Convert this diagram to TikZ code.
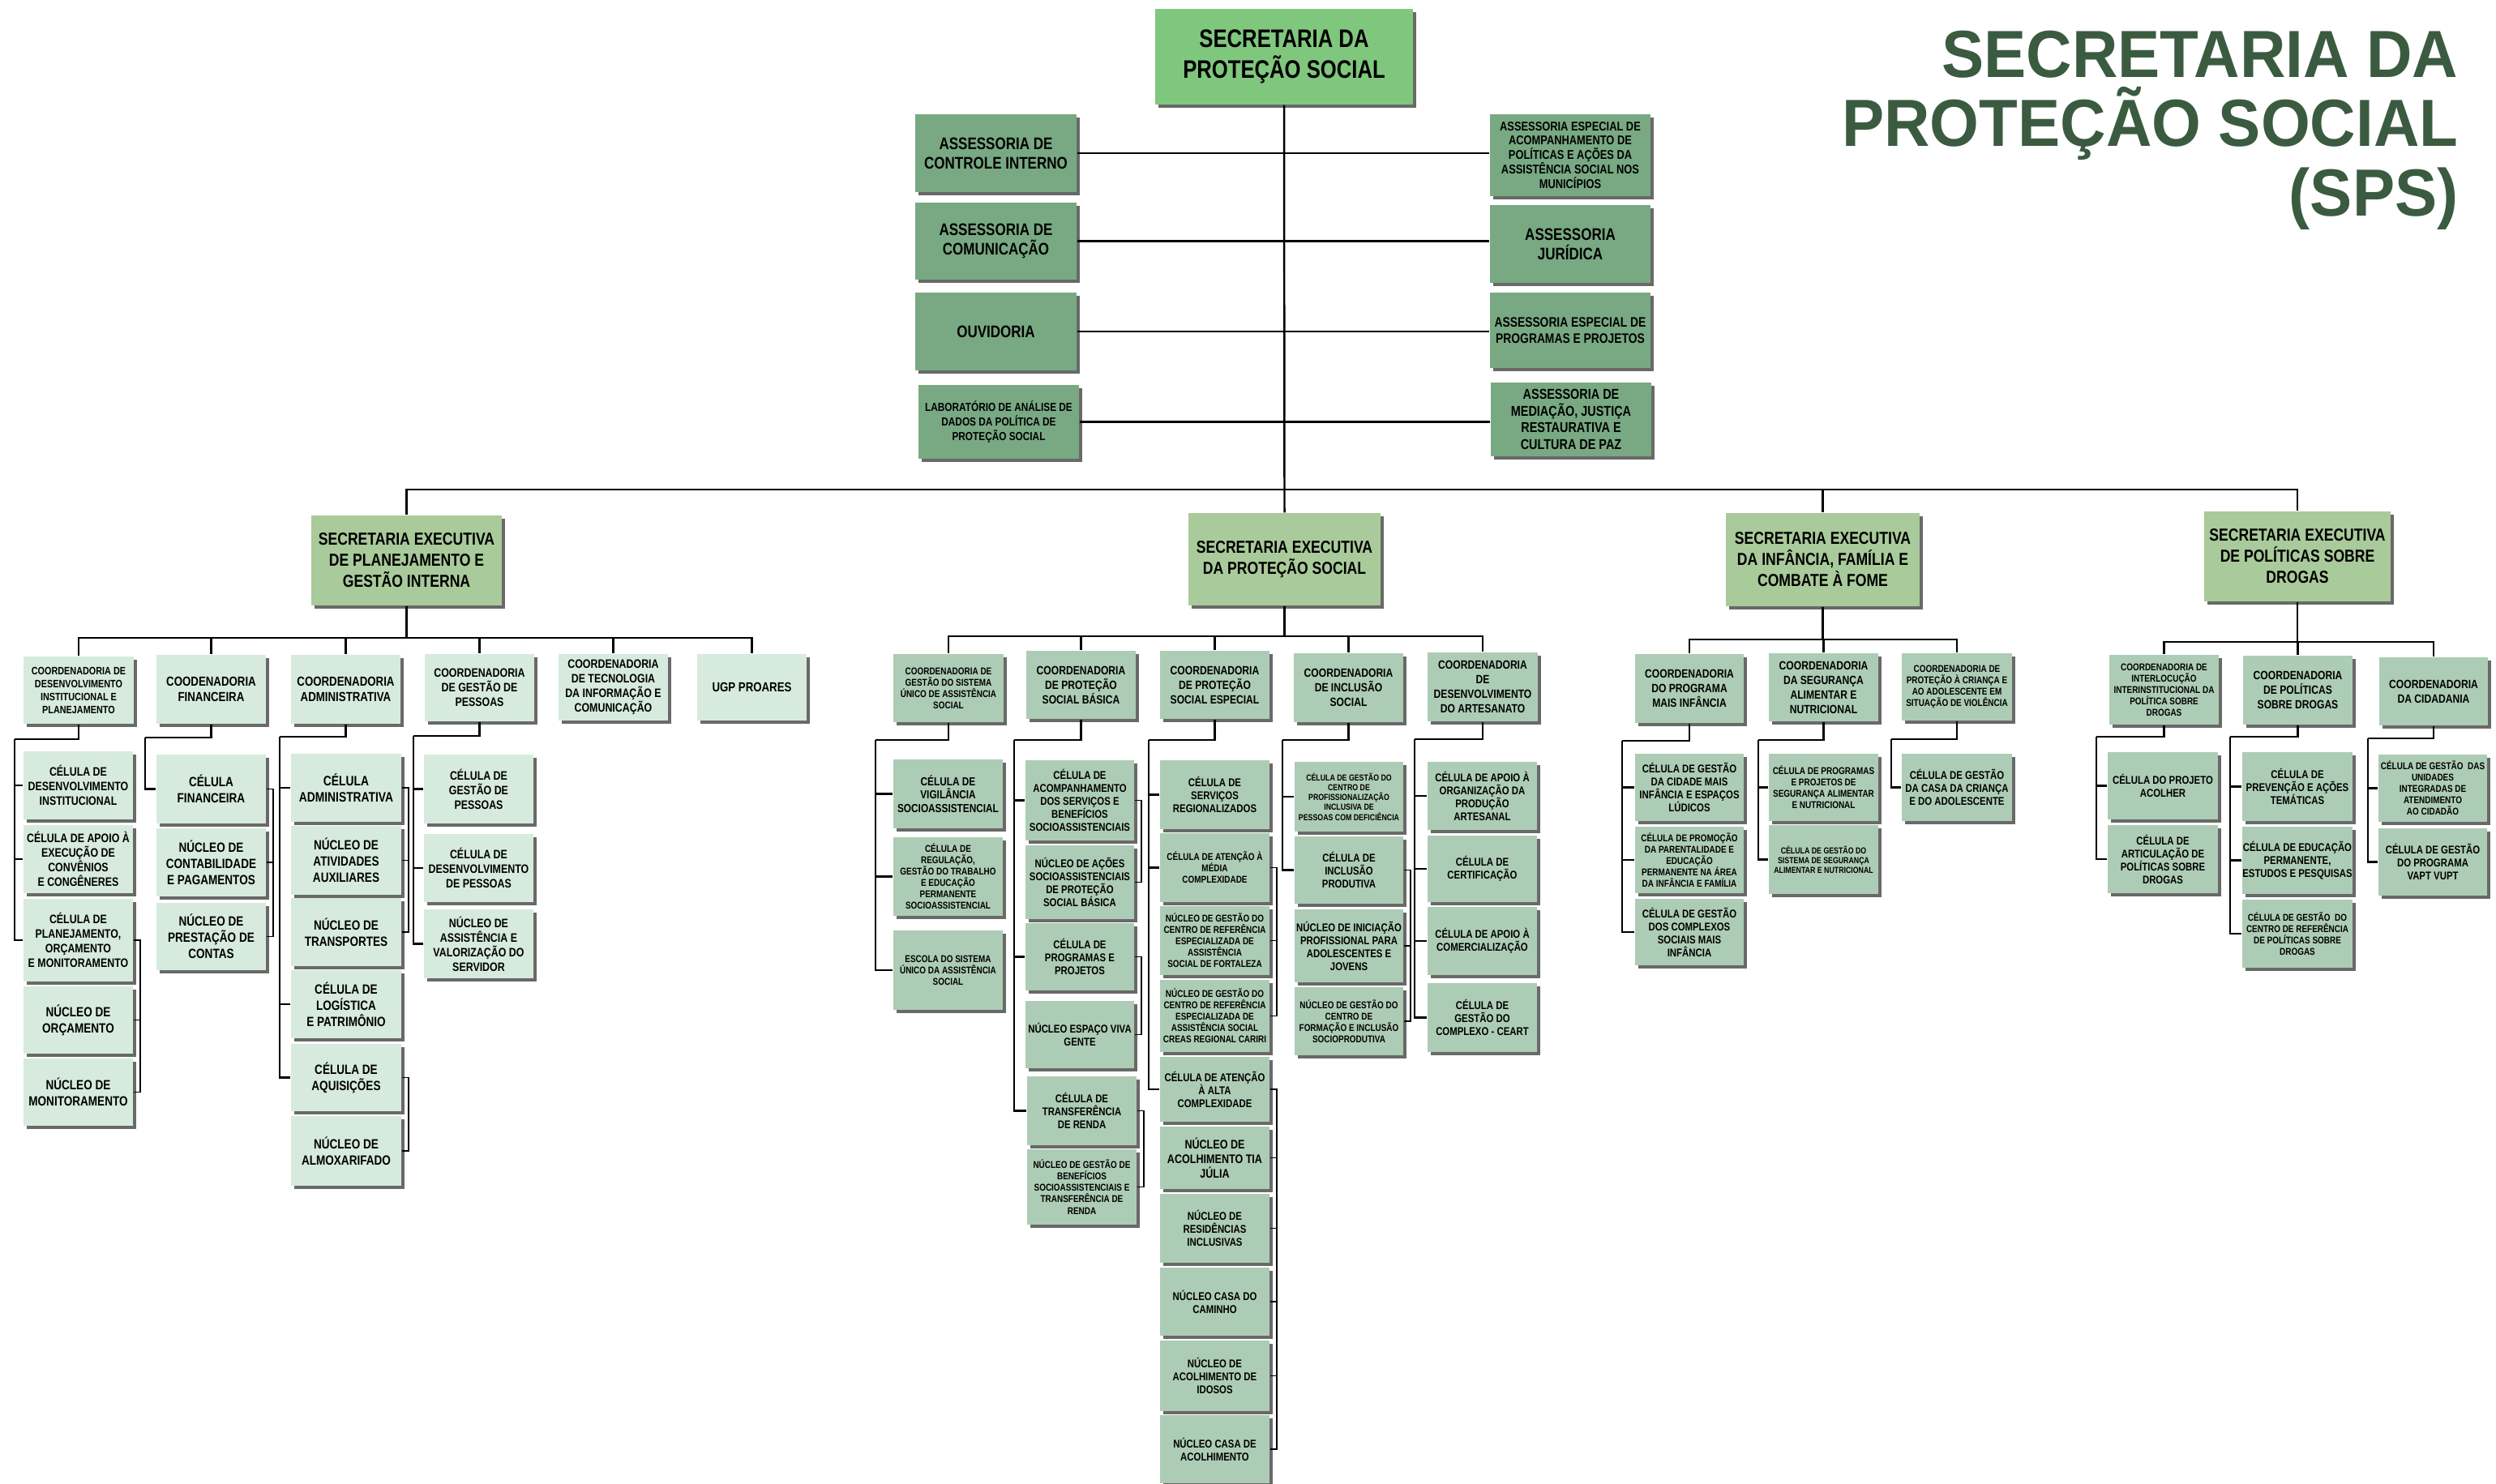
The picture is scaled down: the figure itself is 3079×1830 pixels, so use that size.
\documentclass[tikz,border=0pt]{standalone}
\usepackage{fontspec}
\usepackage{tikz}
\usetikzlibrary{shadows}
\newfontfamily\orgfont{Liberation Sans}[FakeStretch=0.82]
\newfontfamily\ttlfont{Liberation Sans}[FakeStretch=0.95]
\definecolor{topgreen}{RGB}{128,199,126}
\definecolor{asgreen}{RGB}{120,169,130}
\definecolor{segreen}{RGB}{169,202,154}
\definecolor{mint}{RGB}{214,235,221}
\definecolor{sage}{RGB}{173,204,181}
\definecolor{shade}{RGB}{105,105,105}
\definecolor{titlegreen}{RGB}{59,91,65}
% one box: style, name, x1, y1, x2, y2, text (pixel units)
\newcommand{\orgbox}[7]{\node[#1, minimum width={(#5-#3)*0.28453pt}, minimum height={(#6-#4)*0.28453pt}] (#2) at ({(#3+#5)/2},{(#4+#6)/2}) {#7};}
\tikzset{x=0.01cm, y=-0.01cm,
every org/.style={ % common look of the boxes
inner sep=0pt, align=center, text=black,
drop shadow={shadow xshift=1.1pt, shadow yshift=-1.1pt, fill=shade, opacity=1}},
topbox/.style={every org, fill=topgreen},
asbox/.style={every org, fill=asgreen},
sebox/.style={every org, fill=segreen},
ltbox/.style={every org, fill=mint},
mdbox/.style={every org, fill=sage},
t30/.style={font=\orgfont\bfseries\fontsize{3.05}{3.45}\selectfont},
t35/.style={font=\orgfont\bfseries\fontsize{3.45}{4.0}\selectfont},
t38/.style={font=\orgfont\bfseries\fontsize{3.76}{4.55}\selectfont},
t39/.style={font=\orgfont\bfseries\fontsize{3.95}{4.55}\selectfont},
t40/.style={font=\orgfont\bfseries\fontsize{4.1}{4.6}\selectfont},
t41/.style={font=\orgfont\bfseries\fontsize{4.1}{5.2}\selectfont},
t42/.style={font=\orgfont\bfseries\fontsize{4.2}{5.1}\selectfont},
t43/.style={font=\orgfont\bfseries\fontsize{4.3}{5.1}\selectfont},
t44/.style={font=\orgfont\bfseries\fontsize{4.36}{5.1}\selectfont},
t45/.style={font=\orgfont\bfseries\fontsize{4.46}{5.1}\selectfont},
t46/.style={font=\orgfont\bfseries\fontsize{4.6}{5.4}\selectfont},
t47/.style={font=\orgfont\bfseries\fontsize{4.7}{5.7}\selectfont},
t48/.style={font=\orgfont\bfseries\fontsize{4.8}{5.7}\selectfont},
t50/.style={font=\orgfont\bfseries\fontsize{5.0}{5.8}\selectfont},
t59/.style={font=\orgfont\bfseries\fontsize{5.9}{6.8}\selectfont},
t61/.style={font=\orgfont\bfseries\fontsize{6.1}{7.4}\selectfont},
t89/.style={font=\orgfont\bfseries\fontsize{8.9}{10.7}\selectfont},
ttl/.style={font=\ttlfont\bfseries\fontsize{23.4}{24.3}\selectfont, text=titlegreen, align=right, inner sep=0pt},
link/.style={draw, line width=0.7pt}, % connectors
brk/.style={draw, line width=0.5pt}} % side brackets
\begin{document}
\begin{tikzpicture}
\fill[white] (0,0) rectangle (3079,1830);
\useasboundingbox (0,0) rectangle (3079,1830);

\node[ttl, anchor=north east] (title) at (3033,37) {SECRETARIA DA\\PROTEÇÃO SOCIAL\\(SPS)};

% top and assessorias
\orgbox{topbox,t89}{top}{1425}{11}{1743}{129}{SECRETARIA DA\\PROTEÇÃO SOCIAL}
\orgbox{asbox,t59}{aci}{1129}{141}{1328}{237}{ASSESSORIA DE\\CONTROLE INTERNO}
\orgbox{asbox,t59}{acm}{1129}{250}{1328}{345}{ASSESSORIA DE\\COMUNICAÇÃO}
\orgbox{asbox,t59}{aov}{1129}{361}{1328}{457}{OUVIDORIA}
\orgbox{asbox,t41}{alb}{1133}{475}{1331}{566}{LABORATÓRIO DE ANÁLISE DE\\DADOS DA POLÍTICA DE\\PROTEÇÃO SOCIAL}
\orgbox{asbox,t45}{aea}{1838}{141}{2036}{242}{ASSESSORIA ESPECIAL DE\\ACOMPANHAMENTO DE\\POLÍTICAS E AÇÕES DA\\ASSISTÊNCIA SOCIAL NOS\\MUNICÍPIOS}
\orgbox{asbox,t59}{ajr}{1838}{253}{2036}{349}{ASSESSORIA\\JURÍDICA}
\orgbox{asbox,t48}{app}{1838}{361}{2036}{454}{ASSESSORIA ESPECIAL DE\\PROGRAMAS E PROJETOS}
\orgbox{asbox,t50}{amd}{1839}{472}{2037}{563}{ASSESSORIA DE\\MEDIAÇÃO, JUSTIÇA\\RESTAURATIVA E\\CULTURA DE PAZ}

% secretarias executivas
\orgbox{sebox,t61}{sep}{384}{636}{619}{747}{SECRETARIA EXECUTIVA\\DE PLANEJAMENTO E\\GESTÃO INTERNA}
\orgbox{sebox,t61}{sps}{1466}{633}{1703}{747}{SECRETARIA EXECUTIVA\\DA PROTEÇÃO SOCIAL}
\orgbox{sebox,t61}{sin}{2129}{633}{2368}{748}{SECRETARIA EXECUTIVA\\DA INFÂNCIA, FAMÍLIA E\\COMBATE À FOME}
\orgbox{sebox,t61}{sed}{2719}{631}{2949}{742}{SECRETARIA EXECUTIVA\\DE POLÍTICAS SOBRE\\DROGAS}

% planejamento e gestao interna
\orgbox{ltbox,t38}{cdi}{29}{810}{165}{893}{COORDENADORIA DE\\DESENVOLVIMENTO\\INSTITUCIONAL E\\PLANEJAMENTO}
\orgbox{ltbox,t46}{cfi}{193}{808}{328}{893}{COODENADORIA\\FINANCEIRA}
\orgbox{ltbox,t46}{cad}{359}{808}{494}{893}{COORDENADORIA\\ADMINISTRATIVA}
\orgbox{ltbox,t43}{cgp}{524}{807}{659}{890}{COORDENADORIA\\DE GESTÃO DE\\PESSOAS}
\orgbox{ltbox,t43}{cti}{689}{807}{824}{889}{COORDENADORIA\\DE TECNOLOGIA\\DA INFORMAÇÃO E\\COMUNICAÇÃO}
\orgbox{ltbox,t46}{ugp}{860}{807}{995}{889}{UGP PROARES}
\orgbox{ltbox,t43}{c11}{29}{927}{164}{1011}{CÉLULA DE\\DESENVOLVIMENTO\\INSTITUCIONAL}
\orgbox{ltbox,t43}{c12}{29}{1018}{164}{1102}{CÉLULA DE APOIO À\\EXECUÇÃO DE\\CONVÊNIOS\\E CONGÊNERES}
\orgbox{ltbox,t43}{c13}{29}{1109}{164}{1211}{CÉLULA DE\\PLANEJAMENTO,\\ORÇAMENTO\\E MONITORAMENTO}
\orgbox{ltbox,t47}{n14}{29}{1217}{164}{1300}{NÚCLEO DE\\ORÇAMENTO}
\orgbox{ltbox,t47}{n15}{29}{1306}{164}{1389}{NÚCLEO DE\\MONITORAMENTO}
\orgbox{ltbox,t47}{c21}{193}{931}{328}{1016}{CÉLULA\\FINANCEIRA}
\orgbox{ltbox,t47}{n22}{193}{1022}{328}{1106}{NÚCLEO DE\\CONTABILIDADE\\E PAGAMENTOS}
\orgbox{ltbox,t47}{n23}{193}{1114}{328}{1197}{NÚCLEO DE\\PRESTAÇÃO DE\\CONTAS}
\orgbox{ltbox,t48}{c31}{359}{930}{495}{1014}{CÉLULA\\ADMINISTRATIVA}
\orgbox{ltbox,t47}{n32}{359}{1019}{495}{1104}{NÚCLEO DE\\ATIVIDADES\\AUXILIARES}
\orgbox{ltbox,t47}{n33}{359}{1108}{495}{1192}{NÚCLEO DE\\TRANSPORTES}
\orgbox{ltbox,t47}{c34}{359}{1197}{495}{1281}{CÉLULA DE\\LOGÍSTICA\\E PATRIMÔNIO}
\orgbox{ltbox,t47}{c35}{359}{1288}{495}{1371}{CÉLULA DE\\AQUISIÇÕES}
\orgbox{ltbox,t47}{n36}{359}{1377}{495}{1463}{NÚCLEO DE\\ALMOXARIFADO}
\orgbox{ltbox,t43}{c41}{523}{931}{658}{1016}{CÉLULA DE\\GESTÃO DE\\PESSOAS}
\orgbox{ltbox,t43}{c42}{523}{1029}{658}{1113}{CÉLULA DE\\DESENVOLVIMENTO\\DE PESSOAS}
\orgbox{ltbox,t43}{n43}{523}{1122}{658}{1207}{NÚCLEO DE\\ASSISTÊNCIA E\\VALORIZAÇÃO DO\\SERVIDOR}

% protecao social
\orgbox{mdbox,t35}{csu}{1102}{807}{1238}{891}{COORDENADORIA DE\\GESTÃO DO SISTEMA\\ÚNICO DE ASSISTÊNCIA\\SOCIAL}
\orgbox{mdbox,t42}{cpb}{1266}{803}{1401}{887}{COORDENADORIA\\DE PROTEÇÃO\\SOCIAL BÁSICA}
\orgbox{mdbox,t42}{cpe}{1431}{803}{1566}{887}{COORDENADORIA\\DE PROTEÇÃO\\SOCIAL ESPECIAL}
\orgbox{mdbox,t42}{cis}{1596}{806}{1731}{891}{COORDENADORIA\\DE INCLUSÃO\\SOCIAL}
\orgbox{mdbox,t42}{cda}{1761}{805}{1897}{890}{COORDENADORIA\\DE\\DESENVOLVIMENTO\\DO ARTESANATO}
\orgbox{mdbox,t40}{s1}{1102}{937}{1237}{1022}{CÉLULA DE\\VIGILÂNCIA\\SOCIOASSISTENCIAL}
\orgbox{mdbox,t35}{s2}{1102}{1033}{1237}{1130}{CÉLULA DE\\REGULAÇÃO,\\GESTÃO DO TRABALHO\\E EDUCAÇÃO\\PERMANENTE\\SOCIOASSISTENCIAL}
\orgbox{mdbox,t35}{s3}{1102}{1148}{1237}{1246}{ESCOLA DO SISTEMA\\ÚNICO DA ASSISTÊNCIA\\SOCIAL}
\orgbox{mdbox,t39}{b1}{1265}{938}{1399}{1037}{CÉLULA DE\\ACOMPANHAMENTO\\DOS SERVIÇOS E\\BENEFÍCIOS\\SOCIOASSISTENCIAIS}
\orgbox{mdbox,t39}{b2}{1265}{1043}{1399}{1134}{NÚCLEO DE AÇÕES\\SOCIOASSISTENCIAIS\\DE PROTEÇÃO\\SOCIAL BÁSICA}
\orgbox{mdbox,t39}{b3}{1265}{1139}{1399}{1222}{CÉLULA DE\\PROGRAMAS E\\PROJETOS}
\orgbox{mdbox,t39}{b4}{1265}{1235}{1399}{1318}{NÚCLEO ESPAÇO VIVA\\GENTE}
\orgbox{mdbox,t39}{b5}{1267}{1328}{1402}{1413}{CÉLULA DE\\TRANSFERÊNCIA\\DE RENDA}
\orgbox{mdbox,t35}{b6}{1267}{1418}{1402}{1511}{NÚCLEO DE GESTÃO DE\\BENEFÍCIOS\\SOCIOASSISTENCIAIS E\\TRANSFERÊNCIA DE\\RENDA}
\orgbox{mdbox,t39}{e1}{1431}{938}{1566}{1023}{CÉLULA DE\\SERVIÇOS\\REGIONALIZADOS}
\orgbox{mdbox,t35}{e2}{1431}{1028}{1566}{1113}{CÉLULA DE ATENÇÃO À\\MÉDIA\\COMPLEXIDADE}
\orgbox{mdbox,t35}{e3}{1431}{1118}{1566}{1203}{NÚCLEO DE GESTÃO DO\\CENTRO DE REFERÊNCIA\\ESPECIALIZADA DE\\ASSISTÊNCIA\\SOCIAL DE FORTALEZA}
\orgbox{mdbox,t35}{e4}{1431}{1209}{1566}{1298}{NÚCLEO DE GESTÃO DO\\CENTRO DE REFERÊNCIA\\ESPECIALIZADA DE\\ASSISTÊNCIA SOCIAL\\CREAS REGIONAL CARIRI}
\orgbox{mdbox,t39}{e5}{1431}{1304}{1566}{1384}{CÉLULA DE ATENÇÃO\\À ALTA\\COMPLEXIDADE}
\orgbox{mdbox,t44}{e6}{1431}{1390}{1566}{1467}{NÚCLEO DE\\ACOLHIMENTO TIA\\JÚLIA}
\orgbox{mdbox,t39}{e7}{1431}{1473}{1566}{1558}{NÚCLEO DE\\RESIDÊNCIAS\\INCLUSIVAS}
\orgbox{mdbox,t39}{e8}{1431}{1564}{1566}{1648}{NÚCLEO CASA DO\\CAMINHO}
\orgbox{mdbox,t39}{e9}{1431}{1654}{1566}{1741}{NÚCLEO DE\\ACOLHIMENTO DE\\IDOSOS}
\orgbox{mdbox,t39}{e10}{1431}{1746}{1566}{1830}{NÚCLEO CASA DE\\ACOLHIMENTO}
\orgbox{mdbox,t30}{i1}{1597}{940}{1731}{1026}{CÉLULA DE GESTÃO DO\\CENTRO DE\\PROFISSIONALIZAÇÃO\\INCLUSIVA DE\\PESSOAS COM DEFICIÊNCIA}
\orgbox{mdbox,t39}{i2}{1597}{1032}{1731}{1115}{CÉLULA DE\\INCLUSÃO\\PRODUTIVA}
\orgbox{mdbox,t39}{i3}{1597}{1122}{1731}{1212}{NÚCLEO DE INICIAÇÃO\\PROFISSIONAL PARA\\ADOLESCENTES E\\JOVENS}
\orgbox{mdbox,t35}{i4}{1597}{1218}{1731}{1302}{NÚCLEO DE GESTÃO DO\\CENTRO DE\\FORMAÇÃO E INCLUSÃO\\SOCIOPRODUTIVA}
\orgbox{mdbox,t39}{a1}{1761}{940}{1896}{1024}{CÉLULA DE APOIO À\\ORGANIZAÇÃO DA\\PRODUÇÃO\\ARTESANAL}
\orgbox{mdbox,t39}{a2}{1761}{1031}{1896}{1113}{CÉLULA DE\\CERTIFICAÇÃO}
\orgbox{mdbox,t39}{a3}{1761}{1119}{1896}{1203}{CÉLULA DE APOIO À\\COMERCIALIZAÇÃO}
\orgbox{mdbox,t39}{a4}{1761}{1213}{1896}{1298}{CÉLULA DE\\GESTÃO DO\\COMPLEXO - CEART}

% infancia, familia e combate a fome
\orgbox{mdbox,t42}{cmi}{2017}{807}{2151}{892}{COORDENADORIA\\DO PROGRAMA\\MAIS INFÂNCIA}
\orgbox{mdbox,t42}{csa}{2182}{806}{2317}{890}{COORDENADORIA\\DA SEGURANÇA\\ALIMENTAR E\\NUTRICIONAL}
\orgbox{mdbox,t35}{cpc}{2346}{806}{2482}{889}{COORDENADORIA DE\\PROTEÇÃO À CRIANÇA E\\AO ADOLESCENTE EM\\SITUAÇÃO DE VIOLÊNCIA}
\orgbox{mdbox,t39}{f1}{2017}{930}{2151}{1013}{CÉLULA DE GESTÃO\\DA CIDADE MAIS\\INFÂNCIA E ESPAÇOS\\LÚDICOS}
\orgbox{mdbox,t35}{f2}{2017}{1020}{2151}{1102}{CÉLULA DE PROMOÇÃO\\DA PARENTALIDADE E\\EDUCAÇÃO\\PERMANENTE NA ÁREA\\DA INFÂNCIA E FAMÍLIA}
\orgbox{mdbox,t39}{f3}{2017}{1109}{2151}{1191}{CÉLULA DE GESTÃO\\DOS COMPLEXOS\\SOCIAIS MAIS\\INFÂNCIA}
\orgbox{mdbox,t35}{g1}{2182}{930}{2317}{1013}{CÉLULA DE PROGRAMAS\\E PROJETOS DE\\SEGURANÇA ALIMENTAR\\E NUTRICIONAL}
\orgbox{mdbox,t30}{g2}{2182}{1018}{2317}{1103}{CÉLULA DE GESTÃO DO\\SISTEMA DE SEGURANÇA\\ALIMENTAR E NUTRICIONAL}
\orgbox{mdbox,t39}{h1}{2346}{930}{2482}{1013}{CÉLULA DE GESTÃO\\DA CASA DA CRIANÇA\\E DO ADOLESCENTE}

% politicas sobre drogas
\orgbox{mdbox,t35}{cil}{2602}{808}{2737}{894}{COORDENADORIA DE\\INTERLOCUÇÃO\\INTERINSTITUCIONAL DA\\POLÍTICA SOBRE\\DROGAS}
\orgbox{mdbox,t42}{cpd}{2767}{809}{2902}{894}{COORDENADORIA\\DE POLÍTICAS\\SOBRE DROGAS}
\orgbox{mdbox,t42}{ccd}{2935}{811}{3069}{895}{COORDENADORIA\\DA CIDADANIA}
\orgbox{mdbox,t39}{d1}{2600}{928}{2736}{1011}{CÉLULA DO PROJETO\\ACOLHER}
\orgbox{mdbox,t39}{d2}{2600}{1018}{2736}{1102}{CÉLULA DE\\ARTICULAÇÃO DE\\POLÍTICAS SOBRE\\DROGAS}
\orgbox{mdbox,t39}{p1}{2766}{928}{2902}{1013}{CÉLULA DE\\PREVENÇÃO E AÇÕES\\TEMÁTICAS}
\orgbox{mdbox,t39}{p2}{2766}{1020}{2902}{1103}{CÉLULA DE EDUCAÇÃO\\PERMANENTE,\\ESTUDOS E PESQUISAS}
\orgbox{mdbox,t35}{p3}{2766}{1110}{2902}{1194}{CÉLULA DE GESTÃO\ \ DO\\CENTRO DE REFERÊNCIA\\DE POLÍTICAS SOBRE\\DROGAS}
\orgbox{mdbox,t35}{u1}{2934}{931}{3068}{1014}{CÉLULA DE GESTÃO\ \ DAS\\UNIDADES\\INTEGRADAS DE\\ATENDIMENTO\\AO CIDADÃO}
\orgbox{mdbox,t39}{u2}{2934}{1022}{3068}{1105}{CÉLULA DE GESTÃO\\DO PROGRAMA\\VAPT VUPT}

% trunk, main bus and assessorias
\coordinate (mbus) at (1584,604);
\draw[link] (top.south) -- (sps.north);
\draw[link] (sep.north) |- (mbus) -| (sed.north);
\draw[link] (sin.north) |- (mbus);
\draw[link] (aci.east) -- (aci.east -| aea.west);
\draw[link] (acm.east) -- (acm.east -| ajr.west);
\draw[link] (aov.east) -- (aov.east -| app.west);
\draw[link] (alb.east) -- (alb.east -| amd.west);

% secretarias to coordenadorias
\foreach \c in {cdi,cfi,cad,cgp,cti,ugp} \draw[link] (sep.south) -- ++(0,39) -| (\c.north);
\foreach \c in {csu,cpb,cpe,cis,cda} \draw[link] (sps.south) -- ++(0,37) -| (\c.north);
\foreach \c in {cmi,csa,cpc} \draw[link] (sin.south) -- ++(0,40) -| (\c.north);
\foreach \c in {cil,cpd,ccd} \draw[link] (sed.south) -- ++(0,49) -| (\c.north);

% coordenadorias to their units (bus on the left)
\coordinate (k1) at (18,912);
\coordinate (k2) at (179,910);
\coordinate (k3) at (345,909);
\coordinate (k4) at (510,908);
\coordinate (k5) at (1080,913);
\coordinate (k6) at (1251,913);
\coordinate (k7) at (1417,913);
\coordinate (k8) at (1582,913);
\coordinate (k9) at (1745,912);
\coordinate (k10) at (2001,914);
\coordinate (k11) at (2169,913);
\coordinate (k12) at (2333,912);
\coordinate (k13) at (2586,909);
\coordinate (k14) at (2751,909);
\coordinate (k15) at (2921,911);
\foreach \c/\k in {cdi/k1,cfi/k2,cad/k3,cgp/k4,csu/k5,cpb/k6,cpe/k7,cis/k8,cda/k9,cmi/k10,csa/k11,cpc/k12,cil/k13,cpd/k14,ccd/k15}
  \draw[link] (\c.south) |- (\k);
\foreach \k/\u in {k1/c11,k1/c12,k1/c13,k2/c21,k3/c31,k3/c34,k3/c35,k4/c41,k4/c42,k4/n43,
  k5/s1,k5/s2,k5/s3,k6/b1,k6/b3,k6/b5,k7/e1,k7/e2,k7/e5,k8/i1,k8/i2,
  k9/a1,k9/a2,k9/a3,k9/a4,k10/f1,k10/f2,k10/f3,k11/g1,k11/g2,k12/h1,
  k13/d1,k13/d2,k14/p1,k14/p2,k14/p3,k15/u1,k15/u2}
  \draw[link] (\k) |- (\u.west);

% nucleos hanging on the right side
\foreach \p/\n in {c13/n14,c13/n15,c21/n22,c21/n23,c31/n32,c31/n33,c35/n36,
  b1/b2,b3/b4,b5/b6,e2/e3,e2/e4,e5/e6,e5/e7,e5/e8,e5/e9,e5/e10,i2/i3,i2/i4}
  \draw[brk] (\p.east) -- ++(8,0) |- (\n.east);
\end{tikzpicture}
\end{document}
